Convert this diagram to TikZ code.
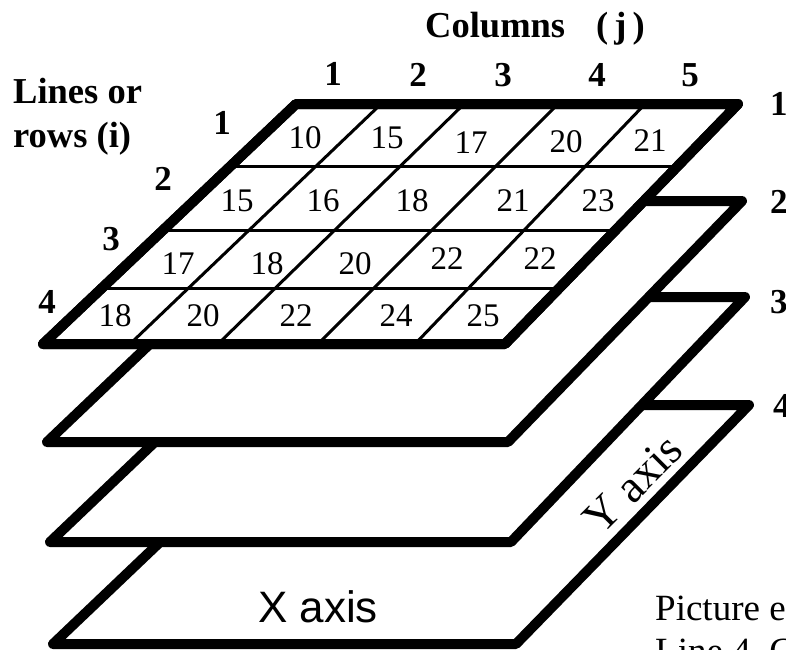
\documentclass[tikz,border=0pt]{standalone}
\usepackage{fontspec}
\setmainfont{Liberation Serif}
\newfontfamily\axisfont{Liberation Sans}
\usetikzlibrary{calc}

\begin{document}
\begin{tikzpicture}[x=1pt,y=-1pt,
  layer/.style={draw=black, fill=white, line width=10pt, line join=round},
  gridline/.style={draw=black, line width=3pt},
  cellnum/.style={font=\fontsize{33}{33}\selectfont, inner sep=0pt},
  idx/.style={font=\bfseries\fontsize{35}{35}\selectfont, inner sep=0pt},
  caption/.style={font=\bfseries\fontsize{36.5}{40}\selectfont, inner sep=0pt, anchor=base west},
  note/.style={font=\fontsize{37}{42}\selectfont, inner sep=0pt, anchor=base west},
]
\useasboundingbox (0,0) rectangle (786,649);
\clip (0,0) rectangle (786,649);

% corners of the four stacked planes
\coordinate (L1tl) at (296,104); \coordinate (L1tr) at (738,104);
\coordinate (L1br) at (505,344); \coordinate (L1bl) at (43,344);
\coordinate (L2tl) at (300,201); \coordinate (L2tr) at (742,201);
\coordinate (L2br) at (508,442); \coordinate (L2bl) at (47,442);
\coordinate (L3tl) at (307,297); \coordinate (L3tr) at (745,297);
\coordinate (L3br) at (511,542); \coordinate (L3bl) at (50,542);
\coordinate (L4tl) at (304,405); \coordinate (L4tr) at (749,405);
\coordinate (L4br) at (516,644); \coordinate (L4bl) at (53,644);

% planes, from the bottom one up
\path[layer] (L4tl) -- (L4tr) -- (L4br) -- (L4bl) -- cycle;
\node[font=\axisfont\fontsize{44}{44}\selectfont, inner sep=0pt, anchor=base west] (xaxis) at (258,622) {X axis};
\node[font=\fontsize{46}{46}\selectfont, inner sep=0pt, rotate=45] (yaxis) at (633,484) {Y axis};
\path[layer] (L3tl) -- (L3tr) -- (L3br) -- (L3bl) -- cycle;
\path[layer] (L2tl) -- (L2tr) -- (L2br) -- (L2bl) -- cycle;
\path[layer] (L1tl) -- (L1tr) -- (L1br) -- (L1bl) -- cycle;

% grid of the top plane: rows
\draw[gridline] ($(L1tl)!0.2583!(L1bl)$) -- ($(L1tr)!0.2583!(L1br)$);
\draw[gridline] ($(L1tl)!0.525!(L1bl)$) -- ($(L1tr)!0.525!(L1br)$);
\draw[gridline] ($(L1tl)!0.7667!(L1bl)$) -- ($(L1tr)!0.7667!(L1br)$);
% columns
\coordinate (k1t) at (381,104); \coordinate (k1b) at (130,344);
\coordinate (k2t) at (464,104); \coordinate (k2b) at (218,344);
\coordinate (k3t) at (558,104); \coordinate (k3b) at (318,344);
\coordinate (k4t) at (645,104); \coordinate (k4b) at (415,344);
\foreach \k in {1,...,4} \draw[gridline] (k\k t) -- (k\k b);
% redraw the border over the grid ends
\draw[layer, fill=none] (L1tl) -- (L1tr) -- (L1br) -- (L1bl) -- cycle;

% cell values
\node[cellnum] (c11) at (305,138) {10};
\node[cellnum] (c12) at (387,138) {15};
\node[cellnum] (c13) at (471,143) {17};
\node[cellnum] (c14) at (566,142) {20};
\node[cellnum] (c15) at (650,141) {21};
\node[cellnum] (c21) at (237,201) {15};
\node[cellnum] (c22) at (323,201) {16};
\node[cellnum] (c23) at (412,201) {18};
\node[cellnum] (c24) at (513,201) {21};
\node[cellnum] (c25) at (598,201) {23};
\node[cellnum] (c31) at (178,264) {17};
\node[cellnum] (c32) at (267,264) {18};
\node[cellnum] (c33) at (355,264) {20};
\node[cellnum] (c34) at (447,259) {22};
\node[cellnum] (c35) at (540,259) {22};
\node[cellnum] (c41) at (115,316) {18};
\node[cellnum] (c42) at (203,316) {20};
\node[cellnum] (c43) at (296,316) {22};
\node[cellnum] (c44) at (396,316) {24};
\node[cellnum] (c45) at (483,316) {25};

% column indices
\node[idx] (j1) at (333,74) {1};
\node[idx] (j2) at (418,75) {2};
\node[idx] (j3) at (503,75) {3};
\node[idx] (j4) at (597,75) {4};
\node[idx] (j5) at (690,75) {5};
% row indices
\node[idx] (i1) at (222,123) {1};
\node[idx] (i2) at (163,179) {2};
\node[idx] (i3) at (111,239) {3};
\node[idx] (i4) at (47,302) {4};
% plane numbers
\node[idx, anchor=west] (p1) at (770,104) {1};
\node[idx, anchor=west] (p2) at (770,202) {2};
\node[idx, anchor=west] (p3) at (770,302) {3};
\node[idx, anchor=west] (p4) at (773,406) {4};

% headings
\node[caption] (colhead) at (425,37) {Columns\hspace{31pt}(\,j\,)};
\node[caption] (rowhead1) at (13,103) {Lines or};
\node[caption] (rowhead2) at (13,147) {rows (i)};

% note at the lower right
\node[note] (note1) at (655,620) {Picture e};
\node[note] (note2) at (655,663) {Line 4, C};
\end{tikzpicture}
\end{document}
